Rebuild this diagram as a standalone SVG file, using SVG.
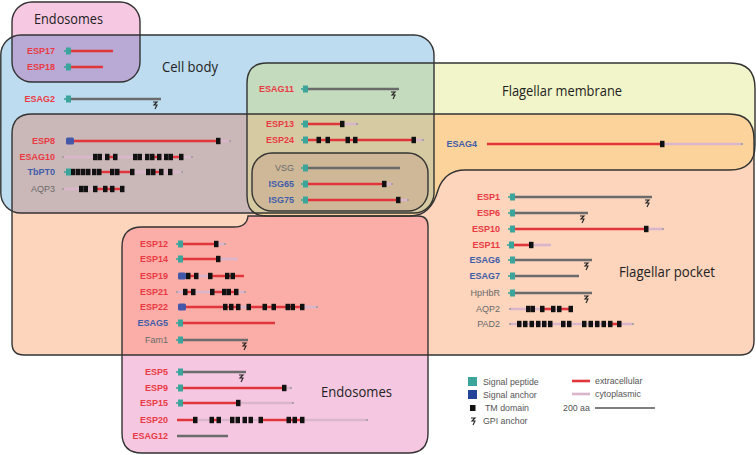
<svg xmlns="http://www.w3.org/2000/svg" xmlns:xlink="http://www.w3.org/1999/xlink" width="756" height="455" viewBox="0 0 756 455">
<style>
.lbl{font-family:"Liberation Sans",Arial,sans-serif;font-size:9px;font-weight:bold;text-anchor:end}
.r{fill:#E93A43}.b{fill:#3F5CA8}.g{fill:#6a6a6a;font-weight:normal}
.ex{stroke:#E0363B;stroke-width:2.6;fill:none}
.cy{stroke:#D9B6CB;stroke-width:2.6;fill:none}
.gr{stroke:#6B6B6B;stroke-width:2.6;fill:none}
.dot{fill:#9a9a9a}
.out{fill:none;stroke:#333;stroke-width:1.4}
.reg{font-family:"Open Sans","Noto Sans",sans-serif;font-size:15px;fill:#222}
.leg{font-family:"Liberation Sans",Arial,sans-serif;font-size:8.8px;fill:#555}
</style>
<defs>
<rect id="sEP" x="12" y="2" width="128" height="80" rx="20"/>
<rect id="sCB" x="0.8" y="35" width="433.2" height="178" rx="20"/>
<path id="sFM" d="M247,83 Q247,63 267,63 L730,63 Q755,63 755,88 L755,145 Q755,170 730,170 L465,170 Q445,170 438,190 Q431,216 410,216 L267,216 Q247,216 247,196 Z"/>
<path id="sFP" d="M32,114 L729,114 Q754,114 754,139 L754,341 Q754,355 740,355 L24,355 Q12,355 12,343 L12,134 Q12,114 32,114 Z"/>
<path id="sEB" d="M122,247 Q122,227 142,227 L234,227 Q247,227 248,216 L418,216 Q428,216 428,226 L428,433 Q428,453 408,453 L142,453 Q122,453 122,433 Z"/>
<rect id="sVSG" x="252" y="153" width="176" height="58" rx="20"/>
<clipPath id="cCB"><use xlink:href="#sCB"/></clipPath>
<clipPath id="cFP"><use xlink:href="#sFP"/></clipPath>
<g id="sp"><rect x="0" y="-3.5" width="5" height="7" fill="#3BA59C"/><rect x="-2" y="-0.8" width="2" height="1.6" fill="#3BA59C"/></g>
<rect id="sa" x="0" y="-3.5" width="8" height="7" rx="1.5" fill="#4557A9"/>
<rect id="tm" x="0" y="-3.2" width="4.5" height="6.4" fill="#111"/>
<path id="gpi" d="M-2,3 L2,3 L-1,6 L2,6 L0,10" fill="none" stroke="#222" stroke-width="1.1"/>
</defs>
<rect width="756" height="455" fill="#fff"/>
<g id="regions">
<use xlink:href="#sEP" fill="#F7C8E2"/>
<use xlink:href="#sCB" fill="#BEDCF0"/>
<use xlink:href="#sFM" fill="#F2F5C9"/>
<use xlink:href="#sFP" fill="#FDD4BC"/>
<use xlink:href="#sEB" fill="#F6C7E1"/>
<g clip-path="url(#cCB)">
<use xlink:href="#sEP" fill="#B9AAD5"/>
<use xlink:href="#sFM" fill="#C5DBBE"/>
<use xlink:href="#sFP" fill="#CAB7B8"/>
</g>
<g clip-path="url(#cFP)">
<use xlink:href="#sFM" fill="#FCD39B"/>
<use xlink:href="#sEB" fill="#FBAEA7"/>
</g>
<g clip-path="url(#cCB)"><g clip-path="url(#cFP)"><use xlink:href="#sFM" fill="#D6CAA2"/></g></g>
<use xlink:href="#sVSG" fill="#CFB898"/>
<use xlink:href="#sEP" class="out"/>
<use xlink:href="#sCB" class="out"/>
<use xlink:href="#sFM" class="out"/>
<use xlink:href="#sFP" class="out"/>
<use xlink:href="#sEB" class="out"/>
<use xlink:href="#sVSG" class="out" stroke="#555"/>
<text id="t-endo1" class="reg" x="34" y="24" textLength="69" lengthAdjust="spacingAndGlyphs">Endosomes</text>
<text id="t-cell" class="reg" x="162" y="72" textLength="56" lengthAdjust="spacingAndGlyphs">Cell body</text>
<text id="t-fm" class="reg" x="502" y="96" textLength="120" lengthAdjust="spacingAndGlyphs">Flagellar membrane</text>
<text id="t-fp" class="reg" x="619" y="277" textLength="96" lengthAdjust="spacingAndGlyphs">Flagellar pocket</text>
<text id="t-endo2" class="reg" x="321" y="397" textLength="71" lengthAdjust="spacingAndGlyphs">Endosomes</text>
</g>
<g id="connectors"/>
<g id="proteins">
<g id="p-esp17"><text class="lbl r" x="55" y="54">ESP17</text><path class="ex" d="M70 51H113"/><use xlink:href="#sp" x="66" y="51"/></g>
<g id="p-esp18"><text class="lbl r" x="55" y="70">ESP18</text><path class="ex" d="M70 67H103"/><use xlink:href="#sp" x="66" y="67"/></g>
<g id="p-esag2"><text class="lbl r" x="55" y="102">ESAG2</text><path class="gr" d="M70 99H161"/><use xlink:href="#sp" x="66" y="99"/><use xlink:href="#gpi" x="155" y="99"/></g>
<g id="p-esp8"><text class="lbl r" x="55" y="144">ESP8</text><path class="ex" d="M74 141H217"/><path class="cy" d="M220 141H229"/><circle class="dot" cx="230" cy="141" r="1"/><use xlink:href="#sa" x="66" y="141"/><use xlink:href="#tm" x="216" y="141"/></g>
<g id="p-esag10"><text class="lbl r" x="55" y="160">ESAG10</text><path class="cy" d="M63 157H191"/><path class="ex" d="M109 157H113M153 157H157M173 157H179"/><circle class="dot" cx="63" cy="157" r="1"/><circle class="dot" cx="192" cy="157" r="1"/>
<use xlink:href="#tm" x="93" y="157"/><use xlink:href="#tm" x="97.5" y="157"/><use xlink:href="#tm" x="105" y="157"/><use xlink:href="#tm" x="113" y="157"/><use xlink:href="#tm" x="133" y="157"/><use xlink:href="#tm" x="137.5" y="157"/><use xlink:href="#tm" x="145" y="157"/><use xlink:href="#tm" x="150" y="157"/><use xlink:href="#tm" x="157" y="157"/><use xlink:href="#tm" x="164" y="157"/><use xlink:href="#tm" x="168.5" y="157"/><use xlink:href="#tm" x="179" y="157"/></g>
<g id="p-tbpt0"><text class="lbl b" x="55" y="175">TbPT0</text><path class="cy" d="M69 172H182"/><path class="ex" d="M100 172H110M119 172H130M155 172H159"/><circle class="dot" cx="182" cy="172" r="1"/><use xlink:href="#sp" x="66" y="172"/>
<use xlink:href="#tm" x="71" y="172"/><use xlink:href="#tm" x="76" y="172"/><use xlink:href="#tm" x="81" y="172"/><use xlink:href="#tm" x="86" y="172"/><use xlink:href="#tm" x="92" y="172"/><use xlink:href="#tm" x="97" y="172"/><use xlink:href="#tm" x="110" y="172"/><use xlink:href="#tm" x="115" y="172"/><use xlink:href="#tm" x="130" y="172"/><use xlink:href="#tm" x="146" y="172"/><use xlink:href="#tm" x="151" y="172"/><use xlink:href="#tm" x="159" y="172"/><use xlink:href="#tm" x="168" y="172"/></g>
<g id="p-aqp3"><text class="lbl g" x="55" y="192">AQP3</text><path class="cy" d="M63 189H125"/><path class="ex" d="M97 189H103M107 189H110M114 189H120"/><circle class="dot" cx="63" cy="189" r="1"/>
<use xlink:href="#tm" x="79" y="189"/><use xlink:href="#tm" x="83.5" y="189"/><use xlink:href="#tm" x="93" y="189"/><use xlink:href="#tm" x="103" y="189"/><use xlink:href="#tm" x="110" y="189"/><use xlink:href="#tm" x="120" y="189"/></g>

<g id="p-esag11"><text class="lbl r" x="294" y="92">ESAG11</text><path class="gr" d="M307 89H399"/><use xlink:href="#sp" x="303" y="89"/><use xlink:href="#gpi" x="393" y="89"/></g>
<g id="p-esp13"><text class="lbl r" x="294" y="127">ESP13</text><path class="ex" d="M307 124H341"/><path class="cy" d="M344 124H357"/><circle class="dot" cx="357" cy="124" r="1"/><use xlink:href="#sp" x="303" y="124"/><use xlink:href="#tm" x="340" y="124"/></g>
<g id="p-esp24"><text class="lbl r" x="294" y="143">ESP24</text><path class="ex" d="M307 140H412"/><path class="cy" d="M416 140H423"/><circle class="dot" cx="423" cy="140" r="1"/><use xlink:href="#sp" x="303" y="140"/>
<use xlink:href="#tm" x="316.5" y="140"/><use xlink:href="#tm" x="325.5" y="140"/><use xlink:href="#tm" x="345.5" y="140"/><use xlink:href="#tm" x="353" y="140"/><use xlink:href="#tm" x="411.5" y="140"/></g>
<g id="p-vsg"><text class="lbl g" x="294" y="171">VSG</text><path class="gr" d="M307 168H400"/><use xlink:href="#sp" x="303" y="168"/></g>
<g id="p-isg65"><text class="lbl b" x="294" y="187">ISG65</text><path class="ex" d="M307 184H383"/><path class="cy" d="M386 184H392"/><circle class="dot" cx="392" cy="184" r="1"/><use xlink:href="#sp" x="303" y="184"/><use xlink:href="#tm" x="382" y="184"/></g>
<g id="p-isg75"><text class="lbl b" x="294" y="203">ISG75</text><path class="ex" d="M307 200H397"/><path class="cy" d="M400 200H408"/><circle class="dot" cx="408" cy="200" r="1"/><use xlink:href="#sp" x="303" y="200"/><use xlink:href="#tm" x="396" y="200"/></g>

<g id="p-esag4"><text class="lbl b" x="477" y="147">ESAG4</text><path class="ex" d="M487 144H661"/><path class="cy" d="M664 144H742"/><circle class="dot" cx="742" cy="144" r="1"/><use xlink:href="#tm" x="660" y="144"/></g>

<g id="p-esp1"><text class="lbl r" x="500" y="200">ESP1</text><path class="gr" d="M514 197H652"/><use xlink:href="#sp" x="510" y="197"/><use xlink:href="#gpi" x="647" y="197"/></g>
<g id="p-esp6"><text class="lbl r" x="500" y="216">ESP6</text><path class="gr" d="M514 213H588"/><use xlink:href="#sp" x="510" y="213"/><use xlink:href="#gpi" x="582" y="213"/></g>
<g id="p-esp10"><text class="lbl r" x="500" y="232">ESP10</text><path class="ex" d="M514 229H645"/><path class="cy" d="M648 229H663"/><circle class="dot" cx="663" cy="229" r="1"/><use xlink:href="#sp" x="510" y="229"/><use xlink:href="#tm" x="644" y="229"/></g>
<g id="p-esp11"><text class="lbl r" x="500" y="248">ESP11</text><path class="ex" d="M513 245H530"/><path class="cy" d="M533 245H551"/><use xlink:href="#sp" x="509" y="245"/><use xlink:href="#tm" x="529" y="245"/></g>
<g id="p-esag6"><text class="lbl b" x="500" y="263">ESAG6</text><path class="gr" d="M514 260H592"/><use xlink:href="#sp" x="510" y="260"/><use xlink:href="#gpi" x="586" y="260"/></g>
<g id="p-esag7"><text class="lbl b" x="500" y="279">ESAG7</text><path class="gr" d="M514 276H579"/><use xlink:href="#sp" x="510" y="276"/></g>
<g id="p-hphbr"><text class="lbl g" x="500" y="296">HpHbR</text><path class="gr" d="M514 293H592"/><use xlink:href="#sp" x="510" y="293"/><use xlink:href="#gpi" x="586" y="293"/></g>
<g id="p-aqp2"><text class="lbl g" x="500" y="312">AQP2</text><path class="cy" d="M510 309H573"/><path class="ex" d="M544 309H551M561 309H569"/><circle class="dot" cx="510" cy="309" r="1"/>
<use xlink:href="#tm" x="526" y="309"/><use xlink:href="#tm" x="530.5" y="309"/><use xlink:href="#tm" x="540" y="309"/><use xlink:href="#tm" x="551" y="309"/><use xlink:href="#tm" x="557" y="309"/><use xlink:href="#tm" x="568.5" y="309"/></g>
<g id="p-pad2"><text class="lbl g" x="500" y="327">PAD2</text><path class="cy" d="M510 324H633"/><path class="ex" d="M612 324H617"/><circle class="dot" cx="510" cy="324" r="1"/><circle class="dot" cx="633" cy="324" r="1"/>
<use xlink:href="#tm" x="517" y="324"/><use xlink:href="#tm" x="523" y="324"/><use xlink:href="#tm" x="529.5" y="324"/><use xlink:href="#tm" x="536" y="324"/><use xlink:href="#tm" x="542" y="324"/><use xlink:href="#tm" x="548" y="324"/><use xlink:href="#tm" x="561" y="324"/><use xlink:href="#tm" x="567" y="324"/><use xlink:href="#tm" x="582" y="324"/><use xlink:href="#tm" x="588.5" y="324"/><use xlink:href="#tm" x="595" y="324"/><use xlink:href="#tm" x="601.5" y="324"/><use xlink:href="#tm" x="608" y="324"/><use xlink:href="#tm" x="617" y="324"/></g>

<g id="p-esp12"><text class="lbl r" x="168" y="247">ESP12</text><path class="ex" d="M182 244H215"/><path class="cy" d="M218 244H225"/><circle class="dot" cx="225" cy="244" r="1"/><use xlink:href="#sp" x="178" y="244"/><use xlink:href="#tm" x="214" y="244"/></g>
<g id="p-esp14"><text class="lbl r" x="168" y="262">ESP14</text><path class="ex" d="M182 259H217"/><path class="cy" d="M220 259H238"/><use xlink:href="#sp" x="178" y="259"/><use xlink:href="#tm" x="216" y="259"/></g>
<g id="p-esp19"><text class="lbl r" x="168" y="279">ESP19</text><path class="ex" d="M186 276H195M212 276H244"/><path class="cy" d="M198 276H209"/><use xlink:href="#sa" x="178" y="276"/>
<use xlink:href="#tm" x="186" y="276"/><use xlink:href="#tm" x="194" y="276"/><use xlink:href="#tm" x="208" y="276"/><use xlink:href="#tm" x="225" y="276"/><use xlink:href="#tm" x="230.5" y="276"/></g>
<g id="p-esp21"><text class="lbl r" x="168" y="295">ESP21</text><path class="cy" d="M177 292H245"/><path class="ex" d="M183 292H191M214 292H222M231 292H234"/><circle class="dot" cx="177" cy="292" r="1"/><circle class="dot" cx="245" cy="292" r="1"/>
<use xlink:href="#tm" x="183" y="292"/><use xlink:href="#tm" x="191" y="292"/><use xlink:href="#tm" x="210" y="292"/><use xlink:href="#tm" x="222" y="292"/><use xlink:href="#tm" x="226.5" y="292"/><use xlink:href="#tm" x="234" y="292"/></g>
<g id="p-esp22"><text class="lbl r" x="168" y="310">ESP22</text><path class="ex" d="M186 307H241M251 307H301"/><path class="cy" d="M240 307H247M304 307H317"/><circle class="dot" cx="317" cy="307" r="1"/><use xlink:href="#sa" x="178" y="307"/>
<use xlink:href="#tm" x="223" y="307"/><use xlink:href="#tm" x="229" y="307"/><use xlink:href="#tm" x="236" y="307"/><use xlink:href="#tm" x="246.5" y="307"/><use xlink:href="#tm" x="262.5" y="307"/><use xlink:href="#tm" x="271.5" y="307"/><use xlink:href="#tm" x="285.5" y="307"/><use xlink:href="#tm" x="290.5" y="307"/><use xlink:href="#tm" x="300" y="307"/></g>
<g id="p-esag5"><text class="lbl b" x="168" y="326">ESAG5</text><path class="ex" d="M182 323H275"/><use xlink:href="#sp" x="178" y="323"/></g>
<g id="p-fam1"><text class="lbl g" x="168" y="343">Fam1</text><path class="gr" d="M182 340H248"/><use xlink:href="#sp" x="178" y="340"/><use xlink:href="#gpi" x="244" y="340"/></g>

<g id="p-esp5"><text class="lbl r" x="168" y="375">ESP5</text><path class="gr" d="M182 372H246"/><use xlink:href="#sp" x="178" y="372"/><use xlink:href="#gpi" x="241" y="372"/></g>
<g id="p-esp9"><text class="lbl r" x="168" y="391">ESP9</text><path class="ex" d="M182 388H283"/><path class="cy" d="M286 388H291"/><circle class="dot" cx="291" cy="388" r="1"/><use xlink:href="#sp" x="178" y="388"/><use xlink:href="#tm" x="282" y="388"/></g>
<g id="p-esp15"><text class="lbl r" x="168" y="406">ESP15</text><path class="ex" d="M182 403H237"/><path class="cy" d="M240 403H293"/><circle class="dot" cx="293" cy="403" r="1"/><use xlink:href="#sp" x="178" y="403"/><use xlink:href="#tm" x="236" y="403"/></g>
<g id="p-esp20"><text class="lbl r" x="168" y="423">ESP20</text><path class="ex" d="M177 420H194M213 420H217M262 420H301"/><path class="cy" d="M197 420H210M220 420H231M252 420H259M304 420H367"/><circle class="dot" cx="367" cy="420" r="1"/>
<use xlink:href="#tm" x="193" y="420"/><use xlink:href="#tm" x="209.5" y="420"/><use xlink:href="#tm" x="216.5" y="420"/><use xlink:href="#tm" x="230" y="420"/><use xlink:href="#tm" x="235.5" y="420"/><use xlink:href="#tm" x="242.5" y="420"/><use xlink:href="#tm" x="248.5" y="420"/><use xlink:href="#tm" x="258.5" y="420"/><use xlink:href="#tm" x="286.5" y="420"/><use xlink:href="#tm" x="292.5" y="420"/><use xlink:href="#tm" x="300" y="420"/></g>
<g id="p-esag12"><text class="lbl r" x="168" y="439">ESAG12</text><path class="gr" d="M177 436H228"/></g>
</g>
<g id="legend">
<rect x="468" y="377" width="9" height="9" fill="#3BA59C"/><text class="leg" x="483" y="385">Signal peptide</text>
<rect x="468" y="390" width="9" height="9" fill="#24449A"/><text class="leg" x="483" y="398">Signal anchor</text>
<rect x="470" y="405" width="5.5" height="6" fill="#111"/><text class="leg" x="485" y="411">TM domain</text>
<use xlink:href="#gpi" x="473" y="415"/><text class="leg" x="483" y="424">GPI anchor</text>
<path class="ex" d="M572 381H590"/><text class="leg" x="595" y="384">extracellular</text>
<path class="cy" d="M572 394H590" stroke-width="1.6"/><text class="leg" x="595" y="397">cytoplasmic</text>
<text class="leg" x="563" y="411">200 aa</text><path d="M595 408H655" stroke="#555" stroke-width="1.3"/>
</g>
</svg>
